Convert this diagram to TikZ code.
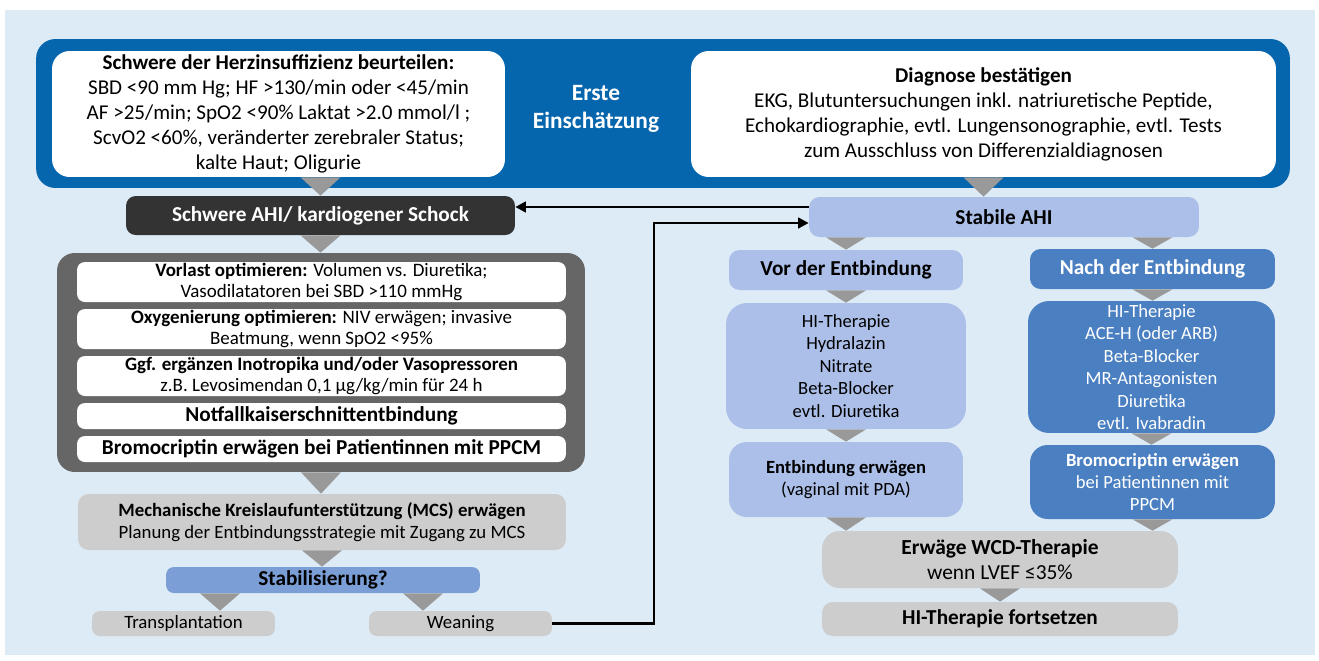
\documentclass[tikz,border=0pt]{standalone}
\usepackage{fontspec}
\setmainfont{Carlito}
\usetikzlibrary{arrows.meta}

\definecolor{bgblue}{HTML}{DDEBF7}
\definecolor{darkblue}{HTML}{0565AD}
\definecolor{darkbox}{HTML}{333333}
\definecolor{contgrey}{HTML}{666666}
\definecolor{lightgrey}{HTML}{CDCDCD}
\definecolor{trigrey}{HTML}{999999}
\definecolor{paleblue}{HTML}{ABBFE8}
\definecolor{midblue}{HTML}{7B9ED6}
\definecolor{nachblue}{HTML}{4A7FC1}

\newcommand{\fsize}[2]{\fontsize{#1}{#2}\selectfont}

\tikzstyle{box} = [rounded corners=4.5pt, align=center, inner sep=0pt]
\tikzstyle{big} = [box, rounded corners=10pt]
\tikzstyle{head} = [box, font=\fsize{12.1}{14}\bfseries]
\tikzstyle{link} = [line width=1.6pt, -{Triangle[length=6pt,width=6pt]}]

% grey triangle between two boxes, at the x of #1
\newcommand{\tri}[3]{\fill[trigrey] (#2.south -| #1) ++(-20,0) -- ++(40,0) -- (#3.north -| #1) -- cycle;}

\begin{document}
\begin{tikzpicture}[x=0.02cm, y=-0.02cm]
  \useasboundingbox (0,0) rectangle (1319,660);
  \fill[bgblue] (5,10) rectangle (1315,655);

  % erste Einschaetzung
  \node[big, fill=darkblue, rounded corners=11pt, minimum width=25.08cm, minimum height=2.98cm] (top) at (663,113.5) {};
  \node[big, fill=white, minimum width=9.06cm, minimum height=2.52cm, font=\fsize{12}{14.2}] (herz) at (278.5,114)
    {\textbf{Schwere der Herzinsuffizienz beurteilen:}\\SBD <90 mm Hg; HF >130/min oder <45/min\\AF >25/min; SpO2 <90\% Laktat >2.0 mmol/l ;\\ScvO2 <60\%, veränderter zerebraler Status;\\kalte Haut; Oligurie};
  \node[box, text=white, font=\fsize{13.3}{16}\bfseries] (erste) at (596,109) {Erste\\Einschätzung};
  \node[big, fill=white, minimum width=11.70cm, minimum height=2.52cm, font=\fsize{12}{14.2}] (diag) at (983.5,114)
    {\textbf{Diagnose bestätigen}\\EKG, Blutuntersuchungen inkl. natriuretische Peptide,\\Echokardiographie, evtl. Lungensonographie, evtl. Tests\\zum Ausschluss von Differenzialdiagnosen};

  % linke Seite
  \node[head, fill=darkbox, text=white, rounded corners=5.5pt, minimum width=7.78cm, minimum height=0.78cm] (ahi) at (320.5,215.5) {Schwere AHI/ kardiogener Schock};
  \node[big, fill=contgrey, minimum width=10.56cm, minimum height=4.38cm] (cont) at (321,362.5) {};
  \node[box, fill=white, minimum width=9.78cm, minimum height=0.80cm, font=\fsize{10.8}{12.4}] (b1) at (321.5,282)
    {\textbf{Vorlast optimieren:} Volumen vs. Diuretika;\\Vasodilatatoren bei SBD >110 mmHg};
  \node[box, fill=white, minimum width=9.78cm, minimum height=0.80cm, font=\fsize{10.8}{12.4}] (b2) at (321.5,329)
    {\textbf{Oxygenierung optimieren:} NIV erwägen; invasive\\Beatmung, wenn SpO2 <95\%};
  \node[box, fill=white, minimum width=9.78cm, minimum height=0.80cm, font=\fsize{10.8}{12.4}] (b3) at (321.5,376)
    {\textbf{Ggf. ergänzen Inotropika und/oder Vasopressoren}\\z.B. Levosimendan 0,1 µg/kg/min für 24 h};
  \node[head, fill=white, minimum width=9.78cm, minimum height=0.52cm] (b4) at (321.5,416) {Notfallkaiserschnittentbindung};
  \node[head, fill=white, minimum width=9.78cm, minimum height=0.52cm] (b5) at (321.5,449) {Bromocriptin erwägen bei Patientinnen mit PPCM};
  \node[box, fill=lightgrey, rounded corners=6pt, minimum width=9.76cm, minimum height=1.12cm, font=\fsize{10.7}{12.5}] (mcs) at (322,522)
    {\textbf{Mechanische Kreislaufunterstützung (MCS) erwägen}\\Planung der Entbindungsstrategie mit Zugang zu MCS};
  \node[head, fill=midblue, minimum width=6.28cm, minimum height=0.52cm] (stab) at (323,580) {Stabilisierung?};
  \node[box, fill=lightgrey, minimum width=3.66cm, minimum height=0.50cm, font=\fsize{10.7}{12}] (trans) at (183.5,623.5) {Transplantation};
  \node[box, fill=lightgrey, minimum width=3.66cm, minimum height=0.50cm, font=\fsize{10.7}{12}] (wean) at (460.5,623.5) {Weaning};

  % rechte Seite
  \node[head, fill=paleblue, rounded corners=6pt, minimum width=7.80cm, minimum height=0.80cm] (stabil) at (1004,217) {Stabile AHI};
  \node[head, fill=paleblue, rounded corners=6pt, minimum width=4.68cm, minimum height=0.80cm] (vor) at (846,270) {Vor der Entbindung};
  \node[head, fill=nachblue, text=white, rounded corners=6pt, minimum width=4.90cm, minimum height=0.80cm] (nach) at (1152.5,269) {Nach der Entbindung};
  \node[big, fill=paleblue, rounded corners=12pt, minimum width=4.80cm, minimum height=2.52cm, font=\fsize{10.6}{12.8}] (vorl) at (846,366)
    {HI-Therapie\\Hydralazin\\Nitrate\\Beta-Blocker\\evtl. Diuretika};
  \node[big, fill=nachblue, text=white, rounded corners=12pt, minimum width=4.94cm, minimum height=2.64cm, font=\fsize{10.6}{12.8}] (nachl) at (1151.5,367)
    {HI-Therapie\\ACE-H (oder ARB)\\Beta-Blocker\\MR-Antagonisten\\Diuretika\\evtl. Ivabradin};
  \node[big, fill=paleblue, minimum width=4.68cm, minimum height=1.50cm, font=\fsize{10.6}{12.8}] (entb) at (846,479.5)
    {\textbf{Entbindung erwägen}\\(vaginal mit PDA)};
  \node[big, fill=nachblue, text=white, minimum width=4.90cm, minimum height=1.48cm, font=\fsize{10.6}{12.5}] (brom) at (1152.5,482)
    {\textbf{Bromocriptin erwägen}\\bei Patientinnen mit\\PPCM};
  \node[big, fill=lightgrey, minimum width=7.12cm, minimum height=1.14cm, font=\fsize{12.2}{14.2}] (wcd) at (1000,559.5)
    {\textbf{Erwäge WCD-Therapie}\\wenn LVEF ≤35\%};
  \node[head, fill=lightgrey, rounded corners=6pt, minimum width=7.12cm, minimum height=0.68cm] (fort) at (1000,619) {HI-Therapie fortsetzen};

  % Dreiecke
  \coordinate (tl) at (220,580);
  \coordinate (tr) at (423,580);
  \tri{ahi}{herz}{ahi}
  \tri{diag}{diag}{stabil}
  \tri{ahi}{ahi}{cont}
  \tri{cont}{cont}{mcs}
  \tri{mcs}{mcs}{stab}
  \tri{tl}{stab}{trans}
  \tri{tr}{stab}{wean}
  \tri{vor}{stabil}{vor}
  \tri{nach}{stabil}{nach}
  \tri{vor}{vor}{vorl}
  \tri{vorl}{vorl}{entb}
  \tri{nach}{nach}{nachl}
  \tri{nachl}{nachl}{brom}
  \tri{entb}{entb}{wcd}
  \tri{brom}{brom}{wcd}
  \tri{wcd}{wcd}{fort}

  % Pfeile
  \coordinate (ya) at (0,207);
  \coordinate (turn) at (654,223);
  \draw[link, {Triangle[length=6pt,width=6pt]}-] (ahi.east |- ya) -- (stabil.west |- ya);
  \draw[link] (wean.east) -| (turn) -- (turn -| stabil.west);
\end{tikzpicture}
\end{document}
